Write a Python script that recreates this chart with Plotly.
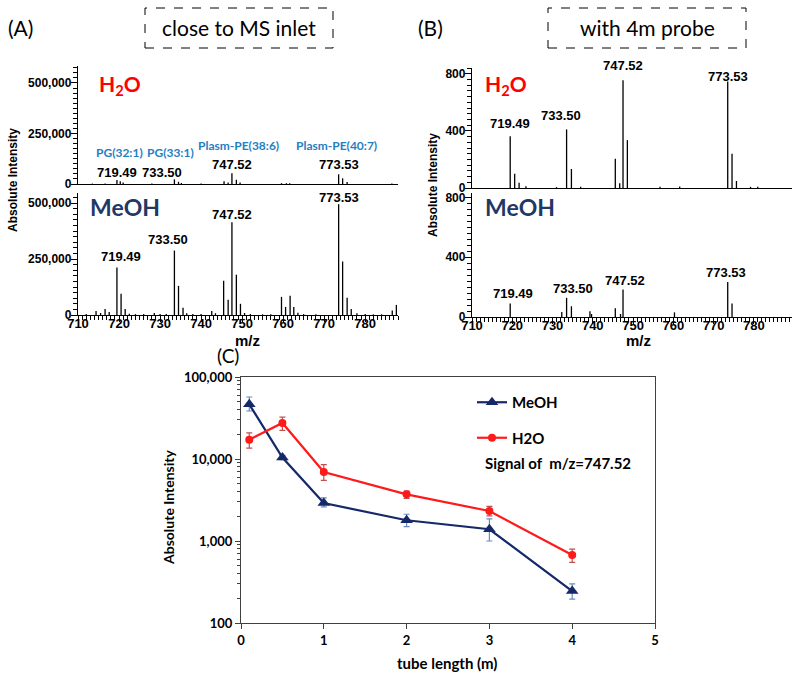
import plotly.graph_objects as go

# ---------------- DATA ----------------
# Panel A: close to MS inlet, H2O spectrum (m/z, absolute intensity)
a_h2o_mz = [713.5, 716.6, 719.49, 720.3, 721.0, 728.0, 733.50, 734.5, 735.2, 740.0,
            745.6, 746.6, 747.52, 748.6, 749.5, 759.6, 760.8, 761.6, 773.53, 774.5, 775.6, 786.5]
a_h2o_int = [2000, 3000, 20000, 13000, 7000, 2000, 23000, 11000, 5000, 2000,
             13000, 8000, 53000, 21000, 7000, 4000, 4000, 4000, 48000, 28000, 10000, 3000]

# Panel A: close to MS inlet, MeOH spectrum
a_meoh_mz = [712.0, 714.4, 715.5, 716.6, 717.6, 719.49, 720.5, 721.5, 722.5, 724.0, 726.0,
             728.6, 730.0, 731.5, 733.50, 734.5, 735.6, 736.5, 738.0, 740.0, 742.6, 743.5,
             745.5, 746.6, 747.52, 748.6, 749.6, 750.6, 752.0, 755.0, 757.0, 759.6, 760.6,
             761.7, 762.6, 763.6, 765.0, 768.0, 773.53, 774.5, 775.6, 776.6, 778.0, 780.0,
             782.0, 784.0, 786.6, 787.6]
a_meoh_int = [4000, 18000, 9000, 27000, 13000, 212000, 95000, 27000, 6000, 4000, 4000,
              9000, 5000, 5000, 288000, 130000, 32000, 8000, 4000, 4000, 18000, 8000,
              153000, 68000, 414000, 180000, 50000, 9000, 4000, 3000, 3000, 81000, 36000,
              86000, 36000, 10000, 4000, 3000, 495000, 239000, 77000, 27000, 8000, 4000,
              3000, 3000, 20000, 45000]

# Panel B: with 4m probe, H2O spectrum
b_h2o_mz = [719.49, 720.6, 721.7, 723.4, 731.0, 733.50, 734.7, 737.0, 745.6, 746.7,
            747.52, 748.6, 756.7, 761.6, 773.53, 774.6, 775.7, 779.2, 781.0]
b_h2o_int = [362, 100, 37, 12, 6, 410, 133, 8, 205, 33,
             755, 335, 8, 10, 745, 240, 49, 8, 8]

# Panel B: with 4m probe, MeOH spectrum
b_meoh_mz = [719.49, 732.3, 733.50, 734.7, 739.3, 739.7, 745.6, 746.9, 747.52, 760.3, 773.53, 774.6]
b_meoh_int = [90, 33, 128, 72, 38, 20, 58, 20, 184, 31, 235, 90]

# Labelled peaks
peak_labels = ["719.49", "733.50", "747.52", "773.53"]
peak_mz = [719.49, 733.50, 747.52, 773.53]
lipid_labels = ["PG(32:1)", "PG(33:1)", "Plasm-PE(38:6)", "Plasm-PE(40:7)"]

# Panel C: signal of m/z 747.52 vs tube length
tube_length = [0.1, 0.5, 1, 2, 3, 4]
meoh_signal = [46400, 10400, 2900, 1790, 1390, 245]
meoh_err_plus = [10600, 700, 450, 330, 470, 55]
meoh_err_minus = [7900, 600, 300, 290, 390, 50]
h2o_signal = [17200, 27500, 6940, 3710, 2320, 676]
h2o_err_plus = [3600, 5000, 1610, 360, 330, 118]
h2o_err_minus = [3600, 5100, 1440, 410, 300, 126]

# ---------------- HELPERS ----------------
W, H = 800, 679
def px(x):
    return x / W
def py(y):
    return 1 - y / H

def sticks(mz, inten):
    xs, ys = [], []
    for m, h in zip(mz, inten):
        xs += [m, m, None]
        ys += [0, h, None]
    return xs, ys

ARIAL = "Liberation Sans, Arial"
CAL = "Lato, Carlito, Calibri"
RED = "#FF0000"
NAVY = "#1F3864"
BLUE_LBL = "#1F80C4"

fig = go.Figure()

spectra = [
    (a_h2o_mz, a_h2o_int, "x", "y"),
    (a_meoh_mz, a_meoh_int, "x2", "y2"),
    (b_h2o_mz, b_h2o_int, "x3", "y3"),
    (b_meoh_mz, b_meoh_int, "x4", "y4"),
]
for mz, inten, xa, ya in spectra:
    xs, ys = sticks(mz, inten)
    fig.add_trace(go.Scatter(x=xs, y=ys, mode="lines", line=dict(color="black", width=1.3),
                             xaxis=xa, yaxis=ya, showlegend=False, hoverinfo="skip"))

# Panel C traces
fig.add_trace(go.Scatter(
    x=tube_length, y=meoh_signal, mode="lines+markers", name="MeOH",
    line=dict(color="#14286A", width=2.2),
    marker=dict(symbol="triangle-up", size=11, color="#14286A"),
    error_y=dict(type="data", array=meoh_err_plus, arrayminus=meoh_err_minus,
                 color="#6A8CC0", thickness=1.2, width=3),
    xaxis="x5", yaxis="y5", legendgroup="a"))
fig.add_trace(go.Scatter(
    x=tube_length, y=h2o_signal, mode="lines+markers", name="H2O",
    line=dict(color="#FF1A1A", width=2.2),
    marker=dict(symbol="circle", size=8, color="#FF1A1A"),
    error_y=dict(type="data", array=h2o_err_plus, arrayminus=h2o_err_minus,
                 color="#C0504D", thickness=1.2, width=3),
    xaxis="x5", yaxis="y5", legendgroup="b"))

tickfont_sp = dict(family=ARIAL, size=12, color="black", weight="bold")

def spec_x(domain_x, rng, show_labels, anchor):
    return dict(domain=domain_x, range=rng, anchor=anchor, automargin=False,
                showline=True, linecolor="black", linewidth=1.3,
                showgrid=False, zeroline=False,
                ticks="outside" if show_labels else "", ticklen=6, tickwidth=1.2,
                tickcolor="black", dtick=10, tick0=710, ticklabelstandoff=-10,
                showticklabels=show_labels,
                tickfont=dict(family=ARIAL, size=13, color="black", weight="bold"),
                minor=dict(ticks="outside" if show_labels else "", ticklen=4, dtick=1,
                           tickcolor="black", tickwidth=1, showgrid=False))

def spec_y(domain_y, rng, dtick, mdtick, anchor, fmt):
    return dict(domain=domain_y, range=rng, anchor=anchor, automargin=False,
                showline=True, linecolor="black", linewidth=1.3,
                showgrid=False, zeroline=False, ticks="outside", ticklen=6, tickwidth=1.2,
                tickcolor="black", dtick=dtick, tickformat=fmt, tickfont=tickfont_sp,
                ticklabelstandoff=-3,
                minor=dict(ticks="outside", ticklen=4, dtick=mdtick, tickcolor="black",
                           tickwidth=1, showgrid=False))

A_X = [px(78), px(398)]
B_X = [px(472), px(792)]

fig.update_layout(
    width=W, height=H, margin=dict(l=0, r=0, t=0, b=0, pad=0, autoexpand=False),
    paper_bgcolor="white", plot_bgcolor="rgba(0,0,0,0)",
    xaxis=spec_x(A_X, [710, 788], False, "y"),
    yaxis=spec_y([py(184), py(66)], [0, 584000], 250000, 25000, "x", ",d"),
    xaxis2=spec_x(A_X, [710, 788], True, "y2"),
    yaxis2=spec_y([py(315), py(193)], [0, 545000], 250000, 25000, "x2", ",d"),
    xaxis3=spec_x(B_X, [710, 789.5], False, "y3"),
    yaxis3=spec_y([py(188), py(68)], [0, 840], 400, 40, "x3", "d"),
    xaxis4=spec_x(B_X, [710, 789.5], True, "y4"),
    yaxis4=spec_y([py(317), py(193)], [0, 830], 400, 40, "x4", "d"),
    xaxis5=dict(domain=[px(241), px(655)], range=[0, 5], anchor="y5", dtick=1, automargin=False,
                showline=True, mirror=True, linecolor="#404040", linewidth=1.3,
                showgrid=False, zeroline=False, ticks="outside", ticklen=5, tickcolor="#404040",
                tickfont=dict(family=CAL, size=13, color="black", weight="bold")),
    yaxis5=dict(domain=[py(623), py(377)], type="log", range=[2, 5], anchor="x5", automargin=False,
                tickvals=[100, 1000, 10000, 100000], ticktext=["100", "1,000", "10,000", "100,000"],
                showline=True, mirror=True, linecolor="#404040", linewidth=1.3,
                showgrid=False, zeroline=False, ticks="outside", ticklen=5, tickcolor="#404040",
                tickfont=dict(family=CAL, size=13, color="black", weight="bold"),
                minor=dict(ticks="outside", ticklen=3, tickcolor="#404040", dtick="D1", showgrid=False)),
    legend=dict(x=px(472), y=py(386), xanchor="left", yanchor="top",
                bgcolor="rgba(0,0,0,0)", font=dict(family=CAL, size=15, color="black", weight="bold"),
                tracegroupgap=13, itemwidth=30),
    showlegend=True,
)

ann = []
def text(x, y, t, size, color="black", family=ARIAL, bold=True, xanchor="center", angle=0, xref="paper", yref="paper"):
    ann.append(dict(x=x, y=y, xref=xref, yref=yref, text=t, showarrow=False, xanchor=xanchor,
                    yanchor="middle", textangle=angle,
                    font=dict(family=family, size=size, color=color, weight="bold" if bold else "normal")))

# panel letters and titles
text(px(20), py(28), "(A)", 21, family=CAL, bold=False)
text(px(430), py(28), "(B)", 21, family=CAL, bold=False)
text(px(228), py(355), "(C)", 19, family=CAL, bold=False)
text(px(239), py(28), "close to MS inlet", 21, family=CAL, bold=False)
text(px(647), py(28), "with 4m probe", 21, family=CAL, bold=False)

# solvent labels
text(px(97), py(85), "H<sub>2</sub>O", 21, color=RED, family=CAL, xanchor="left")
text(px(88), py(207), "MeOH", 23, color=NAVY, family=CAL, xanchor="left")
text(px(483), py(85), "H<sub>2</sub>O", 21, color=RED, family=CAL, xanchor="left")
text(px(483), py(207), "MeOH", 23, color=NAVY, family=CAL, xanchor="left")

# axis titles
text(px(13), py(180), "Absolute Intensity", 12, angle=-90)
text(px(433), py(185), "Absolute Intensity", 12, angle=-90)
text(px(247), py(340), "m/z", 15)
text(px(638), py(340), "m/z", 15)
text(px(168), py(507), "Absolute Intensity", 14, family=CAL, angle=-90)
text(px(447), py(663), "tube length (m)", 15, family=CAL)
text(px(483), py(463), "Signal of  m/z=747.52", 15, family=CAL, xanchor="left")

# peak labels (x in data coords, y in paper)
a_h2o_lbl_y = [172, 172, 164, 164]
a_h2o_lbl_dx = [0, -3, 0, 0]
a_meoh_lbl_y = [256, 239, 214, 197]
a_meoh_lbl_dx = [1.0, -1.5, 0, 0]
b_h2o_lbl_y = [123, 115, 66, 76]
b_h2o_lbl_dx = [0, -1.5, 0, 0]
b_meoh_lbl_y = [293, 288, 280, 272]
b_meoh_lbl_dx = [0.8, 1.5, 0.5, -0.5]
for i, (lbl, m) in enumerate(zip(peak_labels, peak_mz)):
    text(m + a_h2o_lbl_dx[i], py(a_h2o_lbl_y[i]), lbl, 13, xref="x")
    text(m + a_meoh_lbl_dx[i], py(a_meoh_lbl_y[i]), lbl, 13, xref="x2")
    text(m + b_h2o_lbl_dx[i], py(b_h2o_lbl_y[i]), lbl, 13, xref="x3")
    text(m + b_meoh_lbl_dx[i], py(b_meoh_lbl_y[i]), lbl, 13, xref="x4")

lipid_y = [153, 153, 145, 145]
lipid_dx = [0.6, -1.0, 1.5, -0.5]
for i, (lbl, m) in enumerate(zip(lipid_labels, peak_mz)):
    text(m + lipid_dx[i], py(lipid_y[i]), lbl, 12, color=BLUE_LBL, family=CAL, xref="x")

fig.update_layout(annotations=ann)

# dashed title boxes
for x0, x1 in [(145, 333), (548, 746)]:
    fig.add_shape(type="rect", xref="paper", yref="paper", x0=px(x0), x1=px(x1), y0=py(48), y1=py(8),
                  line=dict(color="black", width=1, dash="dash"))

fig.write_html("out.html", config={"displayModeBar": False},
               post_script="document.body.style.margin='0px';")
